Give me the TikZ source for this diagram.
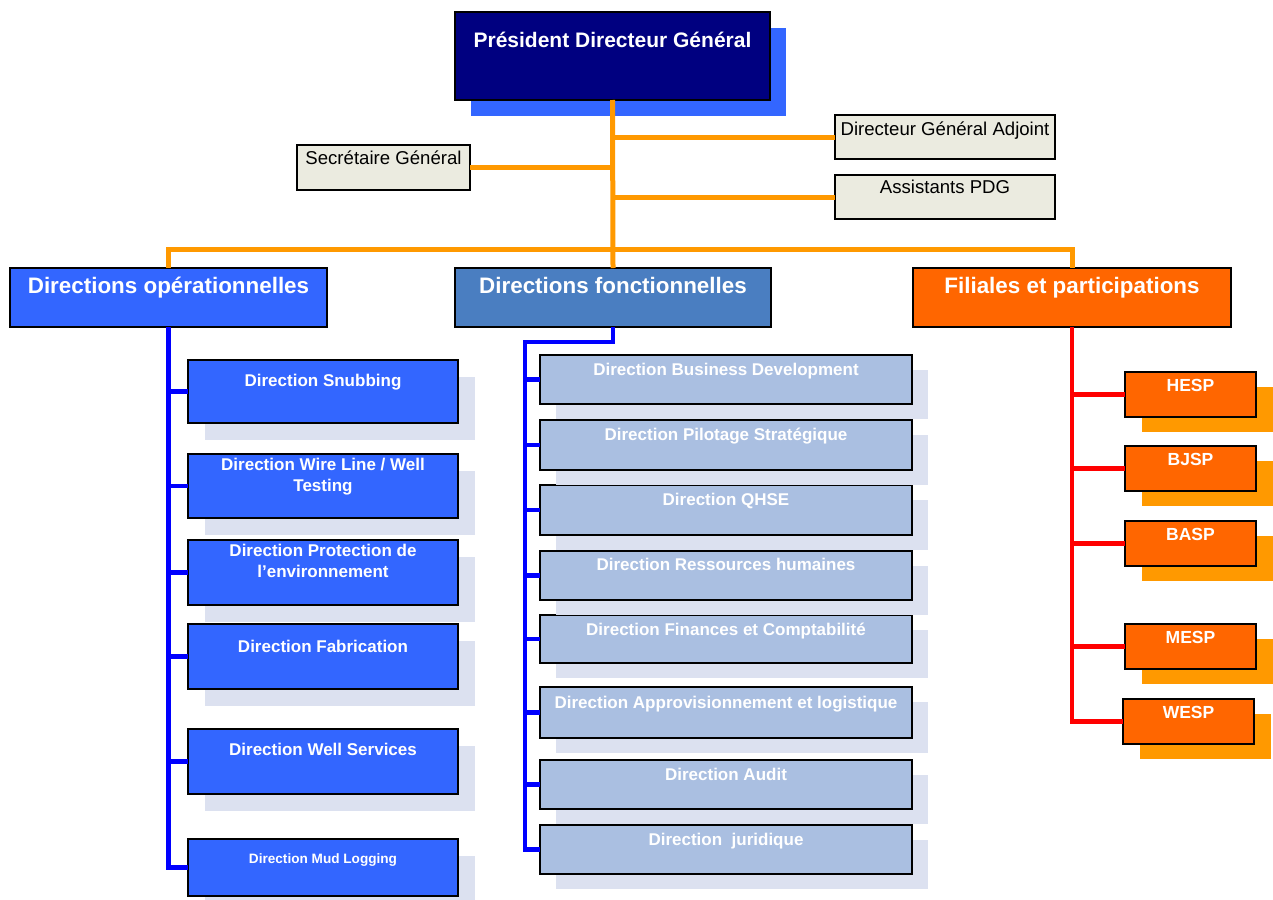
\documentclass[tikz,border=0pt]{standalone}
\usepackage{fontspec}
\setmainfont{Liberation Sans}
\usetikzlibrary{shadows}
\definecolor{navyc}{HTML}{000080}
\definecolor{brightblue}{HTML}{3366FF}
\definecolor{steel}{HTML}{4A7EC1}
\definecolor{orangeA}{HTML}{FF6600}
\definecolor{orangeB}{HTML}{FF9900}
\definecolor{lav}{HTML}{DCE1F0}
\definecolor{pale}{HTML}{AABFE1}
\definecolor{beige}{HTML}{EBEBE0}
\definecolor{lineblue}{HTML}{0000FF}
\newcommand\tbx[4]{\parbox[c][#2pt][t]{#1pt}{\centering\rule{0pt}{#3pt}#4}}
\newcommand\fsz[1]{\fontsize{#1pt}{21pt}\selectfont}
\tikzset{
  base/.style={rectangle, inner sep=0pt, outer sep=0pt, draw=black, line width=1.8pt},
  pdgbox/.style={base, fill=navyc, text=white, line width=2.5pt,
    drop shadow={shadow xshift=16pt, shadow yshift=-16pt, fill=brightblue, opacity=1}},
  staffbox/.style={base, fill=beige, text=black},
  titleA/.style={base, fill=brightblue, text=white},
  titleB/.style={base, fill=steel, text=white},
  titleC/.style={base, fill=orangeA, text=white},
  opbox/.style={base, fill=brightblue, text=white,
    drop shadow={shadow xshift=17pt, shadow yshift=-17pt, fill=lav, opacity=1}},
  fnbox/.style={base, fill=pale, text=white,
    drop shadow={shadow xshift=16pt, shadow yshift=-15pt, fill=lav, opacity=1}},
  subbox/.style={base, fill=orangeA, text=white,
    drop shadow={shadow xshift=17pt, shadow yshift=-15pt, fill=orangeB, opacity=1}},
  oline/.style={draw=orangeB, line width=5pt},
  bline/.style={draw=lineblue, line width=4.5pt},
  rline/.style={draw=red, line width=4.5pt},
}
\begin{document}
\begin{tikzpicture}[x=1pt, y=-1pt]
\useasboundingbox (0,0) rectangle (1273,899);
\fill[white] (0,0) rectangle (1273,899);

% top
\node[pdgbox] (pdg) at (612.5,56) {\tbx{315}{88}{36}{\fsz{21}\bfseries Président Directeur Général}};
\node[staffbox] (sg) at (383.5,167.5) {\tbx{173}{45}{19}{\fsz{18.6}Secrétaire Général}};
\node[staffbox] (dga) at (945,137) {\tbx{220}{44}{20}{\fsz{18.6}Directeur Général Adjoint}};
\node[staffbox] (ap) at (945,197) {\tbx{220}{44}{18}{\fsz{18.6}Assistants PDG}};

\node[titleA] (dop) at (168.5,297.5) {\tbx{317}{59}{25}{\fsz{22.4}\bfseries Directions opérationnelles}};
\node[titleB] (dfn) at (613,297.5) {\tbx{316}{59}{25}{\fsz{22.4}\bfseries Directions fonctionnelles}};
\node[titleC] (fil) at (1072,297.5) {\tbx{318}{59}{25}{\fsz{22.4}\bfseries Filiales et participations}};

% orange connectors
\coordinate (hl) at (168.5,249);
\coordinate (hr) at (1072,249);
\draw[oline] (pdg.south) -- (dfn.north);
\draw[oline] (pdg.south |- dga.west) -- (dga.west);
\draw[oline] (pdg.south |- sg.east) -- (sg.east);
\draw[oline] (pdg.south |- ap.west) -- (ap.west);
\draw[oline] (dop.north) -- (hl) -- (hr) -- (fil.north);

% left column
\node[opbox] (snub) at (323,391.5) {\tbx{270}{63}{26}{\fsz{17}\bfseries Direction Snubbing}};
\node[opbox] (wire) at (323,486) {\tbx{270}{64}{16}{\fsz{17}\bfseries Direction Wire Line / Well\\ Testing}};
\node[opbox] (prot) at (323,572.5) {\tbx{270}{65}{16}{\fsz{17}\bfseries Direction Protection de\\ l'environnement}};
\node[opbox] (fab) at (323,656.5) {\tbx{270}{65}{28}{\fsz{17}\bfseries Direction Fabrication}};
\node[opbox] (well) at (323,761.5) {\tbx{270}{65}{26}{\fsz{17}\bfseries Direction Well Services}};
\node[opbox] (mud) at (323,867.5) {\tbx{270}{57}{24}{\fsz{13.6}\bfseries Direction Mud Logging}};

\draw[bline] (dop.south) |- (mud.west);
\foreach \n in {snub,wire,prot,fab,well}
  \draw[bline] (dop.south |- \n.west) -- (\n.west);

% middle column
\node[fnbox] (jur) at (726,849.5) {\tbx{372}{49}{20}{\fsz{17}\bfseries Direction\ \ juridique}};
\node[fnbox] (aud) at (726,784.5) {\tbx{372}{49}{20}{\fsz{17}\bfseries Direction Audit}};
\node[fnbox] (app) at (726,712.5) {\tbx{372}{51}{21}{\fsz{17}\bfseries Direction Approvisionnement et logistique}};
\node[fnbox] (fin) at (726,639) {\tbx{372}{48}{20}{\fsz{17}\bfseries Direction Finances et Comptabilité}};
\node[fnbox] (rh) at (726,575.5) {\tbx{372}{49}{19}{\fsz{17}\bfseries Direction Ressources humaines}};
\node[fnbox] (qhse) at (726,510) {\tbx{372}{50}{20}{\fsz{17}\bfseries Direction QHSE}};
\node[fnbox] (pil) at (726,445) {\tbx{372}{50}{20}{\fsz{17}\bfseries Direction Pilotage Stratégique}};
\node[fnbox] (bd) at (726,379.5) {\tbx{372}{49}{20}{\fsz{17}\bfseries Direction Business Development}};

\coordinate (mtop) at (525,342);
\draw[bline] (dfn.south) |- (mtop) |- (jur.west);
\foreach \n in {bd,pil,qhse,rh,fin,app,aud}
  \draw[bline] (mtop |- \n.west) -- (\n.west);

% right column
\node[subbox] (hesp) at (1190.5,394.5) {\tbx{131}{45}{19.5}{\fsz{17.5}\bfseries HESP}};
\node[subbox] (bjsp) at (1190.5,468.5) {\tbx{131}{45}{19.5}{\fsz{17.5}\bfseries BJSP}};
\node[subbox] (basp) at (1190.5,543.5) {\tbx{131}{45}{19.5}{\fsz{17.5}\bfseries BASP}};
\node[subbox] (mesp) at (1190.5,646.5) {\tbx{131}{45}{19.5}{\fsz{17.5}\bfseries MESP}};
\node[subbox] (wesp) at (1188.5,721.5) {\tbx{131}{45}{19.5}{\fsz{17.5}\bfseries WESP}};

\draw[rline] (fil.south) |- (wesp.west);
\foreach \n in {hesp,bjsp,basp,mesp}
  \draw[rline] (fil.south |- \n.west) -- (\n.west);
\end{tikzpicture}
\end{document}
